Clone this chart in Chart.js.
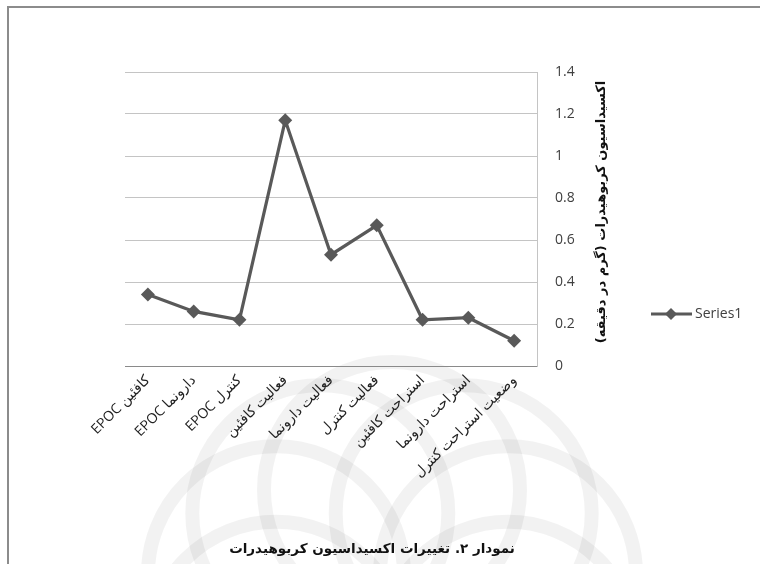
<!DOCTYPE html>
<html>
<head>
<meta charset="utf-8">
<script src="https://cdn.jsdelivr.net/npm/chart.js@4/dist/chart.umd.min.js"></script>
<style>
  html, body { margin: 0; padding: 0; background: #ffffff; }
  #wrap { width: 760px; height: 564px; position: relative; }
</style>
</head>
<body>
<div id="wrap"><canvas id="chart" width="760" height="564"></canvas></div>
<script>
// Carbohydrate oxidation by condition (g/min)
const categories = [
  'EPOC کافئین',
  'EPOC دارونما',
  'EPOC کنترل',
  'فعالیت کافئین',
  'فعالیت دارونما',
  'فعالیت کنترل',
  'استراحت کافئین',
  'استراحت دارونما',
  'وضعیت استراحت کنترل'
];
const oxidation = [0.34, 0.26, 0.22, 1.17, 0.53, 0.67, 0.22, 0.23, 0.12];
const yTicks = [0, 0.2, 0.4, 0.6, 0.8, 1, 1.2, 1.4];
const yTickLabels = ['0', '0.2', '0.4', '0.6', '0.8', '1', '1.2', '1.4'];
const seriesName = 'Series1';
const axisTitle = 'اکسیداسیون کربوهیدرات (گرم در دقیقه)';
const chartTitle = 'نمودار ۲. تغییرات اکسیداسیون کربوهیدرات';

const LINE = '#595959';
const ARABIC_FONT = '"DejaVu Sans", "Noto Sans", sans-serif';
const LATIN_FONT = '"Open Sans", "DejaVu Sans", sans-serif';

// Page frame, faint rosette in the background, titles and legend
const decorations = {
  id: 'decorations',
  beforeDraw(chart) {
    const ctx = chart.ctx;
    ctx.save();
    ctx.fillStyle = '#ffffff';
    ctx.fillRect(0, 0, chart.width, chart.height);

    // rosette
    ctx.strokeStyle = 'rgba(0,0,0,0.05)';
    ctx.lineWidth = 14;
    const cx = 392, cy = 612, ring = 122, r = 128, n = 10;
    for (let i = 0; i < n; i++) {
      const a = (i / n) * Math.PI * 2;
      ctx.beginPath();
      ctx.arc(cx + ring * Math.sin(a), cy - ring * Math.cos(a), r, 0, Math.PI * 2);
      ctx.stroke();
    }

    // frame
    ctx.strokeStyle = '#8c8c8c';
    ctx.lineWidth = 2;
    ctx.beginPath();
    ctx.moveTo(760, 7);
    ctx.lineTo(8, 7);
    ctx.lineTo(8, 564);
    ctx.stroke();
    ctx.restore();
  },
  afterDraw(chart) {
    const ctx = chart.ctx;
    const ds = chart.data.datasets[0];
    ctx.save();

    // vertical axis title
    ctx.direction = 'rtl';
    ctx.fillStyle = '#111111';
    ctx.font = 'bold 13px ' + ARABIC_FONT;
    ctx.textAlign = 'center';
    ctx.textBaseline = 'middle';
    ctx.translate(602, 212);
    ctx.rotate(-Math.PI / 2);
    ctx.fillText(axisTitle, 0, 0);
    ctx.setTransform(1, 0, 0, 1, 0, 0);

    // chart caption
    ctx.font = 'bold 13.5px ' + ARABIC_FONT;
    ctx.fillText(chartTitle, 372, 549);

    // legend
    ctx.direction = 'ltr';
    ctx.strokeStyle = ds.borderColor;
    ctx.lineWidth = 3;
    ctx.beginPath();
    ctx.moveTo(651, 314);
    ctx.lineTo(692, 314);
    ctx.stroke();
    ctx.fillStyle = ds.pointBackgroundColor;
    ctx.beginPath();
    ctx.moveTo(671, 308);
    ctx.lineTo(677, 314);
    ctx.lineTo(671, 320);
    ctx.lineTo(665, 314);
    ctx.closePath();
    ctx.fill();
    ctx.fillStyle = '#404040';
    ctx.font = '14px ' + LATIN_FONT;
    ctx.textAlign = 'left';
    ctx.fillText(seriesName, 695, 314);
    ctx.restore();
  }
};

new Chart(document.getElementById('chart'), {
  type: 'line',
  data: {
    labels: categories,
    datasets: [{
      label: seriesName,
      data: oxidation,
      borderColor: LINE,
      backgroundColor: LINE,
      borderWidth: 3.2,
      tension: 0,
      pointStyle: 'rectRot',
      pointRadius: 7,
      pointBackgroundColor: LINE,
      pointBorderColor: LINE,
      pointBorderWidth: 0
    }]
  },
  options: {
    responsive: false,
    animation: false,
    layout: { padding: { left: 125, top: 72, right: 0, bottom: 0 } },
    plugins: {
      legend: { display: false },
      tooltip: { enabled: false },
      title: { display: false }
    },
    scales: {
      x: {
        offset: true,
        grid: { display: false, drawTicks: false },
        border: { display: true, color: '#8a8a8a', width: 1 },
        ticks: {
          autoSkip: false,
          minRotation: 45,
          maxRotation: 45,
          padding: 6,
          color: '#222222',
          font: { family: '"Open Sans", "DejaVu Sans", sans-serif', size: 14 }
        },
        afterFit(scale) { scale.height = 198; }
      },
      y: {
        position: 'right',
        min: 0,
        max: 1.4,
        grid: {
          drawTicks: false,
          color: (c) => (c.tick && c.tick.value === 0 ? '#8a8a8a' : '#c4c4c4'),
          lineWidth: 1
        },
        border: { display: true, color: '#c4c4c4', width: 1 },
        afterBuildTicks(scale) { scale.ticks = yTicks.map(v => ({ value: v })); },
        ticks: {
          padding: 18,
          color: '#404040',
          font: { family: LATIN_FONT, size: 14 },
          callback: (v) => yTickLabels[yTicks.indexOf(v)]
        },
        afterFit(scale) { scale.width = 223; }
      }
    }
  },
  plugins: [decorations]
});
</script>
</body>
</html>
